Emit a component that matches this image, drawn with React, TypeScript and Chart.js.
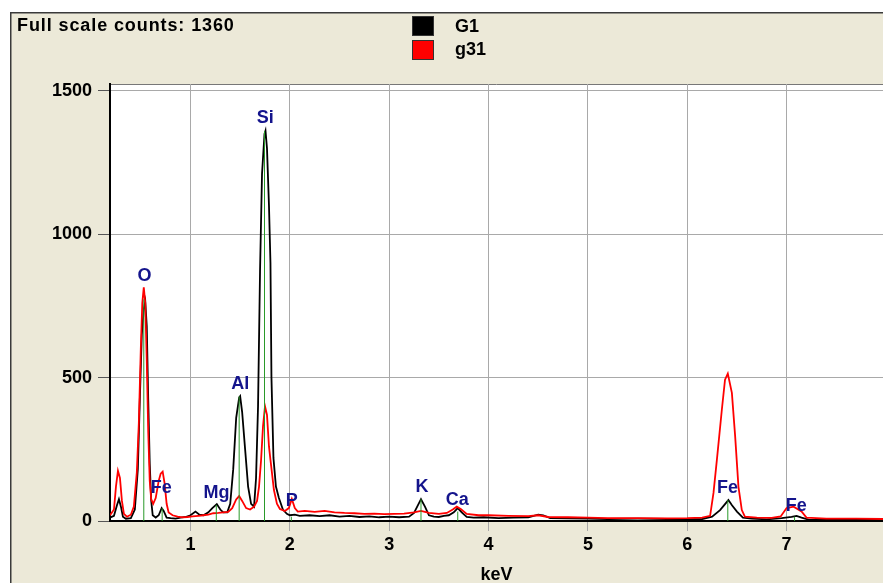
import React, { useEffect, useRef } from 'react';
import { Chart, registerables } from 'chart.js';

Chart.register(...registerables);

const headerText = 'Full scale counts: 1360';
const seriesNames = ['G1', 'g31'];
const seriesColors = ['#000000', '#ff0000'];
const axisTitle = 'keV';

const xTickValues = [1, 2, 3, 4, 5, 6, 7];
const yTickValues = [0, 500, 1000, 1500];
const xRange = [0.19, 7.97];
const yRange = [0, 1524];

// G1 (black) spectrum
const g1Kev = [
  0.19, 0.23, 0.26, 0.28, 0.30, 0.32, 0.35, 0.40, 0.44, 0.47, 0.49, 0.51, 0.53, 0.545, 0.56, 0.575, 0.59, 0.605,
  0.62, 0.65, 0.68, 0.71, 0.73, 0.76, 0.80, 0.85, 0.90, 0.95, 1.00, 1.05, 1.09, 1.13, 1.18, 1.22, 1.265, 1.30,
  1.33, 1.37, 1.40, 1.43, 1.46, 1.49, 1.50, 1.52, 1.55, 1.58, 1.61, 1.64, 1.66, 1.68, 1.70, 1.72, 1.745, 1.755,
  1.77, 1.79, 1.805, 1.815, 1.835, 1.86, 1.89, 1.93, 1.97, 2.00, 2.05, 2.10, 2.20, 2.30, 2.40, 2.50, 2.60, 2.70,
  2.80, 2.90, 3.00, 3.10, 3.20, 3.25, 3.32, 3.36, 3.40, 3.45, 3.50, 3.55, 3.60, 3.65, 3.69, 3.73, 3.78, 3.85,
  3.95, 4.10, 4.25, 4.40, 4.50, 4.55, 4.62, 4.80, 5.00, 5.20, 5.50, 5.80, 6.00, 6.15, 6.25, 6.33, 6.414, 6.45,
  6.50, 6.56, 6.65, 6.80, 6.95, 7.05, 7.10, 7.15, 7.22, 7.50, 7.97,
];
const g1Counts = [
  12, 18, 55, 76, 50, 15, 8, 10, 40, 180, 420, 650, 740, 765, 680, 420, 200, 70,
  20, 12, 20, 45, 35, 12, 10, 8, 12, 14, 20, 33, 22, 20, 30, 45, 59, 40,
  30, 30, 60, 180, 360, 430, 435, 380, 250, 120, 60, 50, 150, 400, 870, 1210, 1350, 1361,
  1300, 1100, 900, 500, 220, 120, 80, 40, 25, 20, 22, 18, 20, 17, 20, 15, 18, 14,
  16, 13, 15, 13, 15, 28, 76, 50, 20, 15, 14, 18, 20, 30, 45, 30, 14, 12,
  13, 10, 12, 13, 22, 20, 10, 9, 8, 7, 8, 7, 6, 7, 15, 38, 73, 55,
  33, 12, 8, 6, 10, 14, 18, 12, 5, 4, 4,
];

// g31 (red) spectrum
const g31Kev = [
  0.19, 0.23, 0.25, 0.27, 0.29, 0.31, 0.33, 0.36, 0.40, 0.43, 0.46, 0.48, 0.50, 0.515, 0.53, 0.545, 0.56, 0.575,
  0.59, 0.605, 0.625, 0.65, 0.68, 0.70, 0.72, 0.74, 0.76, 0.78, 0.82, 0.87, 0.92, 0.97, 1.02, 1.08, 1.13, 1.18,
  1.23, 1.28, 1.33, 1.38, 1.42, 1.46, 1.49, 1.52, 1.56, 1.60, 1.64, 1.67, 1.69, 1.71, 1.73, 1.75, 1.77, 1.79,
  1.805, 1.84, 1.87, 1.90, 1.95, 1.99, 2.02, 2.05, 2.08, 2.15, 2.25, 2.35, 2.45, 2.55, 2.65, 2.75, 2.85, 2.95,
  3.05, 3.15, 3.25, 3.32, 3.40, 3.50, 3.58, 3.64, 3.68, 3.72, 3.78, 3.90, 4.00, 4.20, 4.40, 4.50, 4.60, 4.80,
  5.00, 5.20, 5.50, 5.80, 6.00, 6.15, 6.23, 6.264, 6.298, 6.348, 6.38, 6.408, 6.449, 6.482, 6.515, 6.549, 6.58, 6.70,
  6.85, 6.94, 7.00, 7.07, 7.15, 7.20, 7.40, 7.70, 7.97,
];
const g31Counts = [
  20, 40, 120, 175, 150, 70, 25, 15, 22, 50, 170, 340, 600, 760, 815, 760, 560, 310,
  140, 75, 60, 80, 140, 165, 172, 130, 60, 30, 20, 15, 13, 14, 16, 18, 20, 22,
  27, 28, 30, 32, 45, 75, 87, 70, 45, 40, 50, 70, 120, 210, 330, 400, 370, 260,
  213, 108, 60, 42, 35, 45, 77, 45, 33, 35, 32, 35, 30, 28, 27, 25, 26, 24,
  25, 26, 30, 35, 28, 25, 28, 40, 50, 42, 25, 20, 20, 18, 17, 20, 14, 13,
  12, 10, 10, 9, 10, 12, 18, 98, 213, 388, 493, 514, 447, 295, 120, 38, 15, 12,
  11, 16, 45, 50, 33, 12, 8, 8, 7,
];

// element marker lines and labels
const elementNames = ['O', 'Fe', 'Mg', 'Al', 'Si', 'P', 'K', 'Ca', 'Fe', 'Fe'];
const markerKev = [0.53, 0.715, 1.26, 1.49, 1.745, 2.015, 3.32, 3.69, 6.408, 7.08];
const markerTop = [773, 45, 56, 435, 1360, 15, 76, 33, 73, 15];
const labelKev = [0.537, 0.705, 1.261, 1.502, 1.753, 2.02, 3.33, 3.685, 6.406, 7.096];
const labelCounts = [853, 115, 98, 476, 1404, 68, 117, 73, 115, 52];

const FONT = "'Liberation Sans', Arial, sans-serif";

const decorPlugin = {
  id: 'decor',
  beforeDraw(chart: any) {
    const { ctx, width, height, chartArea: a } = chart;
    ctx.save();
    ctx.fillStyle = '#ffffff';
    ctx.fillRect(0, 0, width, height);
    ctx.fillStyle = '#ece9d8';
    ctx.fillRect(10, 12, width - 10, height - 12);
    ctx.strokeStyle = '#3a3a3a';
    ctx.lineWidth = 1.5;
    ctx.beginPath();
    ctx.moveTo(10.75, height);
    ctx.lineTo(10.75, 12.75);
    ctx.lineTo(width, 12.75);
    ctx.stroke();
    ctx.fillStyle = '#ffffff';
    ctx.fillRect(a.left, a.top, a.right - a.left, a.bottom - a.top);
    ctx.strokeStyle = '#777777';
    ctx.lineWidth = 1;
    ctx.beginPath();
    ctx.moveTo(a.left, a.top + 0.5);
    ctx.lineTo(a.right, a.top + 0.5);
    ctx.stroke();
    ctx.restore();
  },
  afterDraw(chart: any) {
    const { ctx } = chart;
    const xs = chart.scales.x;
    const ys = chart.scales.y;
    ctx.save();
    // element labels
    ctx.font = `bold 18px ${FONT}`;
    ctx.fillStyle = '#14148c';
    ctx.textAlign = 'center';
    ctx.textBaseline = 'middle';
    elementNames.forEach((name, i) => {
      ctx.fillText(name, xs.getPixelForValue(labelKev[i]), ys.getPixelForValue(labelCounts[i]));
    });
    // header
    ctx.textAlign = 'left';
    ctx.textBaseline = 'alphabetic';
    ctx.fillStyle = '#000000';
    ctx.font = `bold 18px ${FONT}`;
    (ctx as any).letterSpacing = '0.9px';
    ctx.fillText(headerText, 17, 31);
    (ctx as any).letterSpacing = '0px';
    // legend
    ctx.font = `bold 18px ${FONT}`;
    chart.data.datasets.slice(0, 2).forEach((ds: any, i: number) => {
      const by = 16 + i * 24;
      ctx.fillStyle = ds.borderColor;
      ctx.fillRect(412, by, 21, 19);
      ctx.strokeStyle = '#333333';
      ctx.lineWidth = 1;
      ctx.strokeRect(412.5, by + 0.5, 21, 19);
      ctx.fillStyle = '#000000';
      ctx.fillText(ds.label, 455, 31.5 + i * 23.5);
    });
    ctx.restore();
  },
};

export default function App() {
  const canvasRef = useRef<HTMLCanvasElement | null>(null);

  useEffect(() => {
    const canvas = canvasRef.current;
    if (!canvas) return;
    const g1Data = g1Kev.map((x, i) => ({ x, y: g1Counts[i] }));
    const g31Data = g31Kev.map((x, i) => ({ x, y: g31Counts[i] }));
    const markerData: any[] = [];
    markerKev.forEach((x, i) => {
      markerData.push({ x, y: 0 }, { x, y: markerTop[i] }, { x, y: null });
    });

    const chart = new Chart(canvas, {
      type: 'line',
      data: {
        datasets: [
          {
            label: seriesNames[0],
            data: g1Data,
            borderColor: seriesColors[0],
            backgroundColor: seriesColors[0],
            borderWidth: 1.8,
            pointRadius: 0,
            tension: 0,
            order: 2,
          },
          {
            label: seriesNames[1],
            data: g31Data,
            borderColor: seriesColors[1],
            backgroundColor: seriesColors[1],
            borderWidth: 1.8,
            pointRadius: 0,
            tension: 0,
            order: 1,
          },
          {
            label: 'markers',
            data: markerData,
            borderColor: '#2a9a2a',
            borderWidth: 1,
            pointRadius: 0,
            spanGaps: false,
            order: 0,
          },
        ],
      },
      options: {
        responsive: false,
        maintainAspectRatio: false,
        animation: false,
        layout: { padding: { top: 84, left: 0, right: 0, bottom: 0 } },
        plugins: {
          legend: { display: false },
          tooltip: { enabled: false },
          title: { display: false },
        },
        scales: {
          x: {
            type: 'linear',
            min: xRange[0],
            max: xRange[1],
            afterBuildTicks: (scale: any) => {
              scale.ticks = xTickValues.map((v) => ({ value: v }));
            },
            afterFit: (scale: any) => {
              scale.height = 62;
            },
            ticks: {
              color: '#000000',
              font: { family: FONT, size: 18, weight: 'bold' },
              padding: 3,
              maxRotation: 0,
              autoSkip: false,
              callback: (v: any) => String(v),
            },
            grid: {
              color: '#a9a9a9',
              tickColor: '#a9a9a9',
              tickLength: 10,
              lineWidth: 1,
            },
            border: { display: true, color: '#000000', width: 2 },
            title: {
              display: true,
              text: axisTitle,
              color: '#000000',
              font: { family: FONT, size: 18, weight: 'bold', lineHeight: 0.84 },
              padding: { top: 0, bottom: 0 },
            },
          },
          y: {
            type: 'linear',
            min: yRange[0],
            max: yRange[1],
            afterBuildTicks: (scale: any) => {
              scale.ticks = yTickValues.map((v) => ({ value: v }));
            },
            afterFit: (scale: any) => {
              scale.width = 110;
            },
            ticks: {
              color: '#000000',
              font: { family: FONT, size: 18, weight: 'bold' },
              padding: 6,
              autoSkip: false,
              callback: (v: any) => String(v),
            },
            grid: {
              color: '#a9a9a9',
              tickColor: '#555555',
              tickLength: 12,
              lineWidth: 1,
            },
            border: { display: true, color: '#000000', width: 2 },
          },
        },
      },
      plugins: [decorPlugin],
    } as any);

    return () => chart.destroy();
  }, []);

  return (
    <div style={{ position: 'absolute', left: 0, top: 0, width: 883, height: 583 }}>
      <canvas ref={canvasRef} width={883} height={583} style={{ display: 'block', width: 883, height: 583 }} />
    </div>
  );
}
